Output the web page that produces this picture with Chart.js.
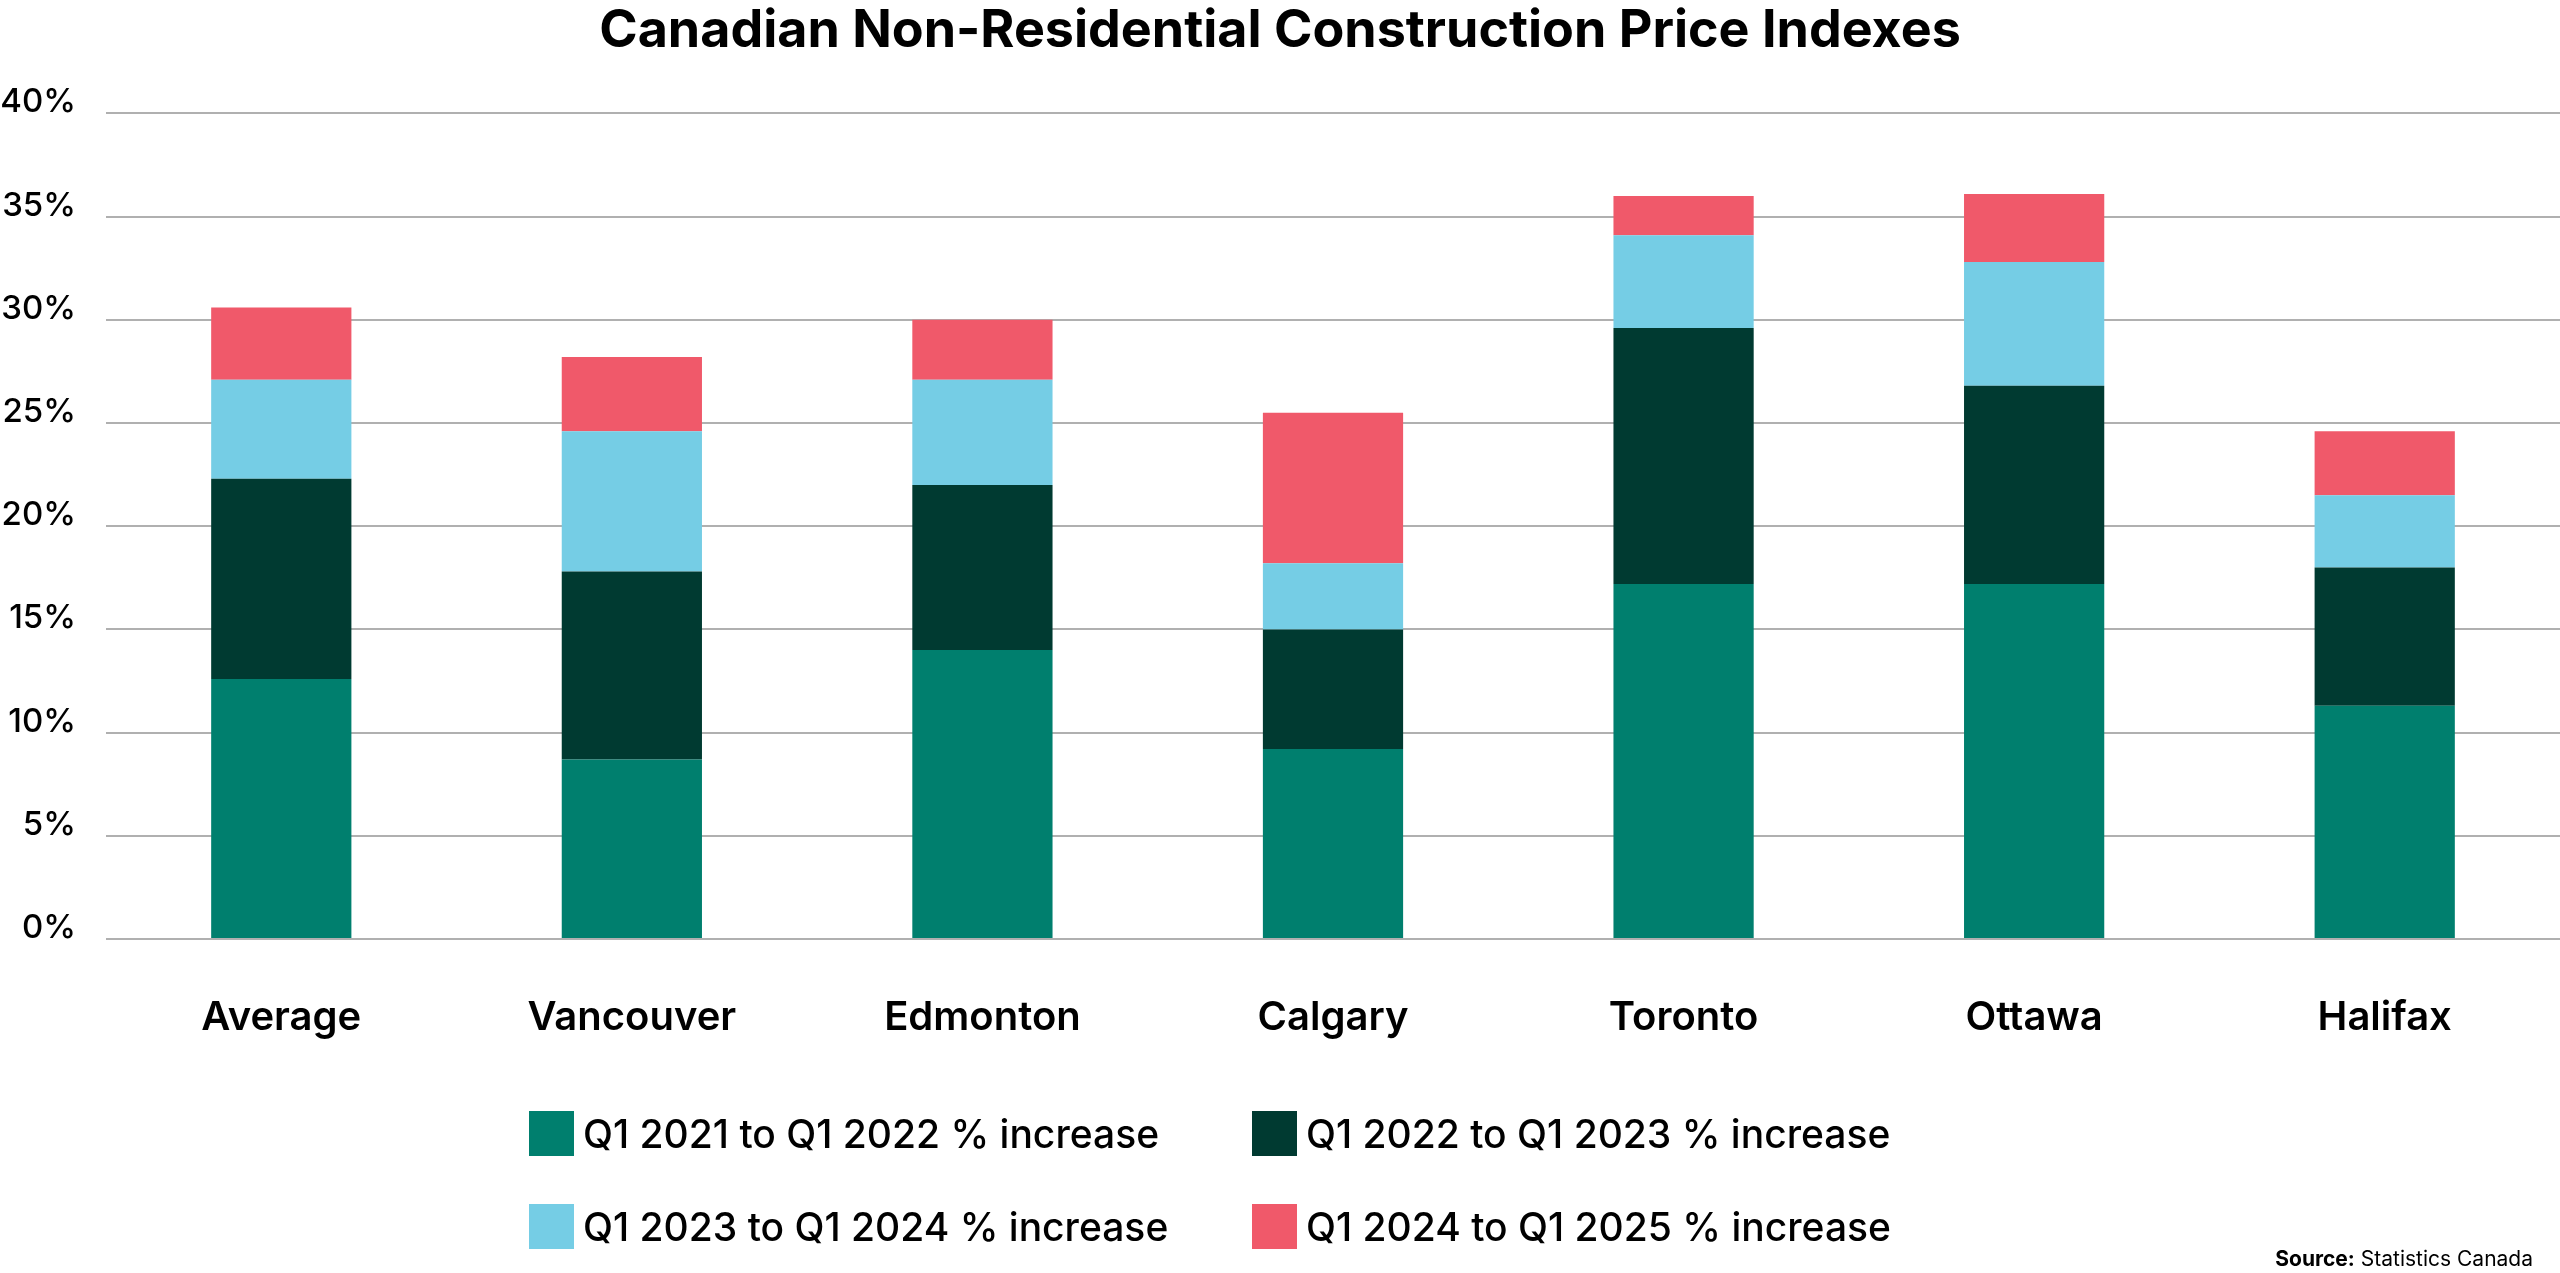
<!DOCTYPE html>
<html>
<head>
<meta charset="utf-8">
<script src="https://cdn.jsdelivr.net/npm/chart.js@4.4.1/dist/chart.umd.min.js"></script>
<style>
  html, body { margin: 0; padding: 0; background: #fff; }
  #wrap { position: relative; width: 2560px; height: 1273px; }
  #legend {
    position: absolute; left: 529px; top: 1111px;
    display: grid; grid-template-columns: 723px auto; row-gap: 48px;
    font-family: Inter, sans-serif; font-weight: 500; font-size: 39px; color: #000;
  }
  .item { display: flex; align-items: center; height: 45px; white-space: nowrap; }
  .box { width: 45px; height: 45px; margin-right: 9px; }
  #source {
    position: absolute; right: 27px; top: 1246px;
    font-family: Inter, sans-serif; font-size: 21px; color: #000;
  }
</style>
</head>
<body>
<div id="wrap">
  <canvas id="myChart"></canvas>
  <div id="legend"></div>
  <div id="source"><b>Source:</b> Statistics Canada</div>
</div>
<script>
const cities = ['Average', 'Vancouver', 'Edmonton', 'Calgary', 'Toronto', 'Ottawa', 'Halifax']
const seriesNames = [
  'Q1 2021 to Q1 2022 % increase',
  'Q1 2022 to Q1 2023 % increase',
  'Q1 2023 to Q1 2024 % increase',
  'Q1 2024 to Q1 2025 % increase'
]
const q21to22 = [12.6, 8.7, 14.0, 9.2, 17.2, 17.2, 11.3]
const q22to23 = [9.7, 9.1, 8.0, 5.8, 12.4, 9.6, 6.7]
const q23to24 = [4.8, 6.8, 5.1, 3.2, 4.5, 6.0, 3.5]
const q24to25 = [3.5, 3.6, 2.9, 7.3, 1.9, 3.3, 3.1]
const yTicks = [0, 5, 10, 15, 20, 25, 30, 35, 40]

const colors = ['#007f6e', '#003a31', '#75cde5', '#f0596a']
const values = [q21to22, q22to23, q23to24, q24to25]
const font = 'Inter, sans-serif'

const canvas = document.getElementById('myChart')
canvas.width = 2560
canvas.height = 1273
canvas.style.width = '2560px'
canvas.style.height = '1273px'

let myBarChart = new Chart(canvas.getContext('2d'), {
  type: 'bar',
  data: {
    labels: cities,
    datasets: seriesNames.map((name, i) => ({
      label: name,
      data: values[i],
      backgroundColor: colors[i],
      borderWidth: 0
    }))
  },
  options: {
    responsive: false,
    animation: false,
    devicePixelRatio: 1,
    layout: { padding: { left: 0, right: 0, top: 0, bottom: 176 } },
    datasets: { bar: { categoryPercentage: 1, barPercentage: 0.4 } },
    plugins: {
      legend: { display: false },
      tooltip: { enabled: false },
      title: {
        display: true,
        text: 'Canadian Non-Residential Construction Price Indexes',
        color: '#000',
        font: { family: font, size: 52, weight: '700' },
        padding: { top: 0, bottom: 51 }
      }
    },
    scales: {
      x: {
        stacked: true,
        grid: { display: false, drawTicks: false },
        border: { display: false },
        ticks: {
          color: '#000',
          padding: 55,
          font: { family: font, size: 40, weight: '600' }
        }
      },
      y: {
        stacked: true,
        min: 0,
        max: 40,
        afterFit: scale => { scale.width = 106 },
        afterBuildTicks: scale => { scale.ticks = yTicks.map(v => ({ value: v })) },
        grid: { color: '#b0b0b0', lineWidth: 2, drawTicks: false },
        border: { display: false },
        ticks: {
          color: '#000',
          padding: 30,
          labelOffset: -11,
          font: { family: font, size: 33, weight: '500' },
          callback: v => v + '%'
        }
      }
    }
  }
})

// legend built from the chart's datasets
const legendEl = document.getElementById('legend')
myBarChart.data.datasets.forEach(ds => {
  const item = document.createElement('div')
  item.className = 'item'
  const box = document.createElement('span')
  box.className = 'box'
  box.style.background = ds.backgroundColor
  const txt = document.createElement('span')
  txt.textContent = ds.label
  item.appendChild(box)
  item.appendChild(txt)
  legendEl.appendChild(item)
})
</script>
</body>
</html>
